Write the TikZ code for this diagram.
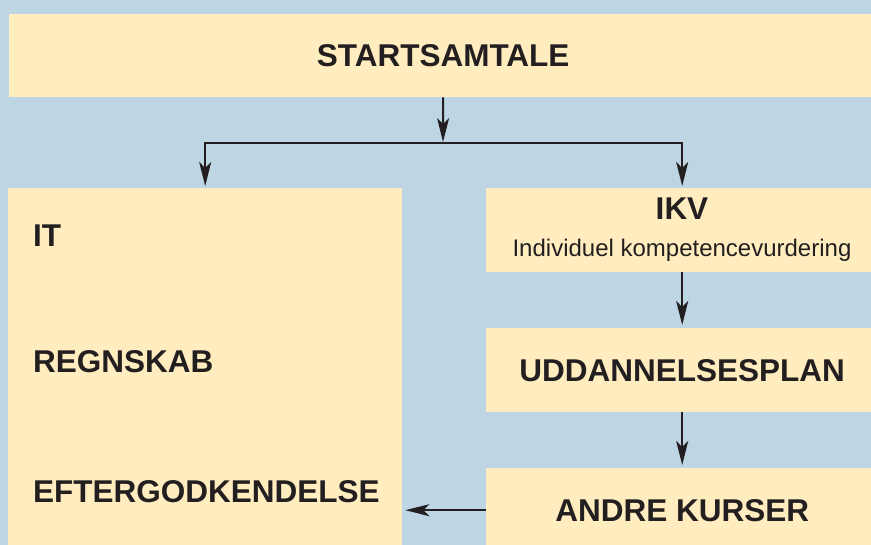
\documentclass[tikz,border=0pt]{standalone}
\usepackage{fontspec}
\setmainfont{Liberation Sans}
\usetikzlibrary{arrows.meta}
\definecolor{bgblue}{RGB}{190,214,227}
\definecolor{boxyellow}{RGB}{255,237,191}
\definecolor{ink}{RGB}{35,31,32}
\tikzset{
  box/.style={fill=boxyellow, inner sep=0pt, anchor=north west, text=ink,
    font=\fontsize{31.5}{37}\selectfont\bfseries},
  head/.style={text=ink, inner sep=0pt, font=\fontsize{31.5}{37}\selectfont\bfseries},
  sub/.style={text=ink, inner sep=0pt, font=\fontsize{24}{28}\selectfont},
  arr/.style={draw=ink, line width=2pt, -{Stealth[length=24pt, width=12pt, inset=6pt]}}
}
\begin{document}
\begin{tikzpicture}[x=1pt, y=-1pt]
    \useasboundingbox (0,0) rectangle (871,545);
    \fill [bgblue] (0,0) rectangle (871,545);
    \node [box, minimum width=868pt, minimum height=83pt] (start) at (9,14) {STARTSAMTALE};
    \node [box, minimum width=394pt, minimum height=372pt] (fag) at (8,188) {};
    \node [head, anchor=base west] (it) at (33,247) {IT};
    \node [head, anchor=base west] (regnskab) at (33,373) {REGNSKAB};
    \node [head, anchor=base west] (efter) at (33,502) {EFTERGODKENDELSE};
    \node [box, minimum width=392pt, minimum height=84pt] (ikv) at (486,188) {};
    \node [head, anchor=base] (ikvtitle) at (682,220) {IKV};
    \node [sub, anchor=base] (ikvtext) at (682,257) {Individuel kompetencevurdering};
    \node [box, minimum width=392pt, minimum height=84pt] (plan) at (486,328) {UDDANNELSESPLAN};
    \node [box, minimum width=392pt, minimum height=84pt] (kurser) at (486,468) {ANDRE KURSER};
    \coordinate (split) at (443,143);
    \draw [arr, shorten >=1pt] (start.south) -- (split);
    \draw [arr, shorten >=2pt] (split) -| (fag.north);
    \draw [arr, shorten >=2pt] (split) -| (ikv.north);
    \draw [arr, shorten >=3pt] (ikv.south) -- (plan.north);
    \draw [arr, shorten >=3pt] (plan.south) -- (kurser.north);
    \draw [arr, shorten >=3pt] (kurser.west) -- (kurser.west -| fag.east);
\end{tikzpicture}
\end{document}
